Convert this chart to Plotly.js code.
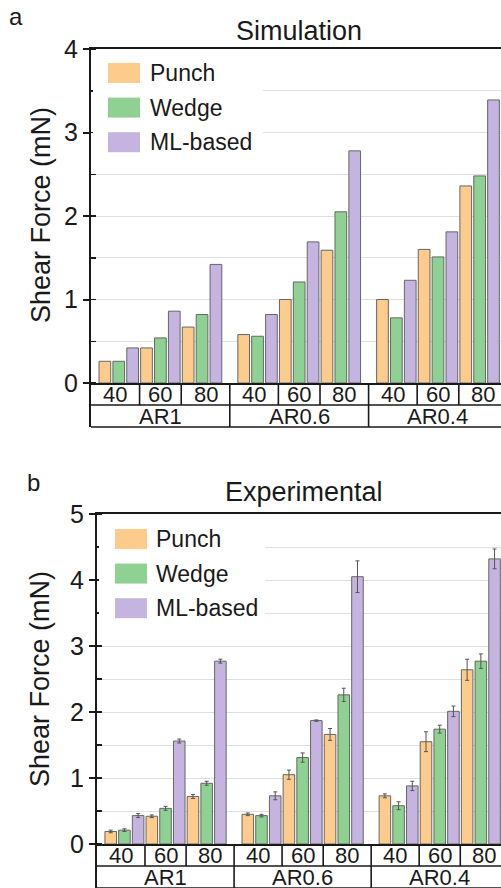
<!DOCTYPE html>
<html>
<head>
<meta charset="utf-8">
<script src="https://cdn.plot.ly/plotly-3.0.1.min.js"></script>
<style>
  html, body { margin: 0; padding: 0; background: #ffffff; }
  #chart { width: 501px; height: 888px; }
</style>
</head>
<body>
<div id="chart"></div>
<script>
// ---- data -------------------------------------------------------------
const aspectRatios = ['AR1', 'AR0.6', 'AR0.4'];
const angles = ['40', '60', '80'];
const seriesNames = ['Punch', 'Wedge', 'ML-based'];
const seriesColors = ['#FDCB8C', '#8FD192', '#C4B4DF'];

// Shear force (mN), ordered AR1 40/60/80, AR0.6 40/60/80, AR0.4 40/60/80
const simPunch = [0.26, 0.42, 0.67, 0.58, 1.00, 1.59, 1.00, 1.60, 2.36];
const simWedge = [0.26, 0.54, 0.82, 0.56, 1.21, 2.05, 0.78, 1.51, 2.48];
const simML    = [0.42, 0.86, 1.42, 0.82, 1.69, 2.78, 1.23, 1.81, 3.39];

const expPunch = [0.19, 0.42, 0.72, 0.45, 1.05, 1.66, 0.73, 1.55, 2.64];
const expWedge = [0.21, 0.54, 0.92, 0.43, 1.31, 2.26, 0.58, 1.74, 2.77];
const expML    = [0.43, 1.56, 2.77, 0.73, 1.87, 4.05, 0.88, 2.01, 4.32];

const expPunchErr = [0.02, 0.02, 0.03, 0.02, 0.07, 0.09, 0.03, 0.15, 0.16];
const expWedgeErr = [0.02, 0.03, 0.03, 0.02, 0.07, 0.10, 0.06, 0.06, 0.11];
const expMLErr    = [0.03, 0.03, 0.03, 0.06, 0.01, 0.24, 0.07, 0.08, 0.15];

// ---- page geometry (pixels) -------------------------------------------
const W = 501, H = 888;
const px = p => p / W;
const py = p => 1 - p / H;
const FONT = 'Liberation Sans, Arial, sans-serif';
const INK = '#1a1a1a';
const GRID = '#dedede';

// each aspect-ratio group takes 10 slots: 9 bars plus one spacer slot
const GROUP_SLOTS = 10;
const clusterPos = [];
aspectRatios.forEach((ar, g) => angles.forEach((ang, a) => clusterPos.push(g * GROUP_SLOTS + a * 3 + 1)));

const panels = [
  { letter: 'a', title: 'Simulation', xa: 'x', ya: 'y', left: 91, top: 49, zero: 383, ymax: 4, xmax: 28.54,
    values: [simPunch, simWedge, simML], errors: null,
    titleXY: [299, 31], letterXY: [16, 17], ytitleXY: [41, 215],
    legend: { box: [93, 51, 263, 165], sw: [108, 140], textX: 148, y0: 73 } },
  { letter: 'b', title: 'Experimental', xa: 'x2', ya: 'y2', left: 97, top: 514, zero: 844, ymax: 5, xmax: 28.47,
    values: [expPunch, expWedge, expML], errors: [expPunchErr, expWedgeErr, expMLErr],
    titleXY: [304, 492], letterXY: [33, 482], ytitleXY: [40, 679],
    legend: { box: [99, 516, 265, 626], sw: [115, 147], textX: 154, y0: 539 } }
];

const ROW_H = 22;
const LEGEND_STEP = 34.6;

const traces = [];
const shapes = [];
const annotations = [];
const layout = {
  width: W, height: H,
  margin: { l: 0, r: 0, t: 0, b: 0 },
  paper_bgcolor: '#ffffff', plot_bgcolor: '#ffffff',
  barmode: 'group', bargap: 0, bargroupgap: 0.157,
  showlegend: false,
  font: { family: FONT, color: INK }
};

panels.forEach(p => {
  const xKey = p.xa === 'x' ? 'xaxis' : 'xaxis2';
  const yKey = p.ya === 'y' ? 'yaxis' : 'yaxis2';
  const ints = [];
  for (let v = 0; v <= p.ymax; v++) ints.push(v);

  layout[xKey] = {
    domain: [px(p.left), 1], range: [-1, p.xmax], anchor: p.ya,
    showline: true, linewidth: 2, linecolor: INK, mirror: true,
    showticklabels: false, ticks: '', showgrid: false, zeroline: false, fixedrange: true
  };
  layout[yKey] = {
    domain: [py(p.zero), py(p.top)], range: [0, p.ymax], anchor: p.xa,
    tickvals: ints, ticks: 'outside', ticklen: 6, tickwidth: 2, tickcolor: INK,
    tickfont: { family: FONT, size: 25, color: INK },
    showline: true, linewidth: 2, linecolor: INK, mirror: false,
    showgrid: true, gridcolor: GRID, gridwidth: 1, zeroline: false, fixedrange: true,
    minor: { dtick: 0.5, ticks: 'inside', ticklen: 5, tickwidth: 1.5, tickcolor: INK,
             showgrid: true, gridcolor: GRID, gridwidth: 1 }
  };

  // bars
  seriesNames.forEach((name, s) => {
    const t = {
      type: 'bar', name: name, x: clusterPos, y: p.values[s],
      xaxis: p.xa, yaxis: p.ya,
      marker: { color: seriesColors[s], line: { color: '#666666', width: 1 } },
      hoverinfo: 'skip'
    };
    if (p.errors) {
      t.error_y = { type: 'data', array: p.errors[s], symmetric: true,
                    color: '#555555', thickness: 1, width: 2 };
    }
    traces.push(t);
  });

  // category table under the axis
  const r1 = p.zero + ROW_H, r2 = p.zero + 2 * ROW_H;
  const line = { color: INK, width: 1.6 };
  shapes.push({ type: 'line', xref: p.xa, yref: 'paper', x0: -1, x1: GROUP_SLOTS * aspectRatios.length,
                y0: py(r1), y1: py(r1), line });
  shapes.push({ type: 'line', xref: p.xa, yref: 'paper', x0: -1, x1: GROUP_SLOTS * aspectRatios.length,
                y0: py(r2), y1: py(r2), line });
  shapes.push({ type: 'line', xref: 'paper', yref: 'paper', x0: px(p.left - 1), x1: px(p.left - 1),
                y0: py(p.zero), y1: py(r2), line: { color: INK, width: 2 } });
  aspectRatios.forEach((ar, g) => {
    const base = g * GROUP_SLOTS;
    const edges = [base - 1, base + 2.5, base + 5.5, base + 9];
    [edges[1], edges[2]].forEach(xv => shapes.push({
      type: 'line', xref: p.xa, yref: 'paper', x0: xv, x1: xv, y0: py(p.zero), y1: py(r1), line }));
    if (g > 0) shapes.push({ type: 'line', xref: p.xa, yref: 'paper', x0: base - 1, x1: base - 1,
                             y0: py(p.zero), y1: py(r2), line });
    angles.forEach((ang, a) => annotations.push({
      text: ang, xref: p.xa, yref: 'paper', x: (edges[a] + edges[a + 1]) / 2, y: py(p.zero + ROW_H / 2),
      xanchor: 'center', yanchor: 'middle', showarrow: false,
      font: { family: FONT, size: 22, color: INK } }));
    annotations.push({
      text: ar, xref: p.xa, yref: 'paper', x: base + 4, y: py(p.zero + ROW_H * 1.5),
      xanchor: 'center', yanchor: 'middle', showarrow: false,
      font: { family: FONT, size: 22, color: INK } });
  });

  // legend
  const L = p.legend;
  shapes.push({ type: 'rect', xref: 'paper', yref: 'paper', layer: 'above',
                x0: px(L.box[0]), x1: px(L.box[2]), y0: py(L.box[3]), y1: py(L.box[1]),
                fillcolor: '#ffffff', line: { width: 0 } });
  seriesNames.forEach((name, s) => {
    const cy = L.y0 + s * LEGEND_STEP;
    shapes.push({ type: 'rect', xref: 'paper', yref: 'paper', layer: 'above',
                  x0: px(L.sw[0]), x1: px(L.sw[1]), y0: py(cy + 10), y1: py(cy - 10),
                  fillcolor: seriesColors[s], line: { width: 0 } });
    annotations.push({ text: name, xref: 'paper', yref: 'paper', x: px(L.textX), y: py(cy),
                       xanchor: 'left', yanchor: 'middle', showarrow: false,
                       font: { family: FONT, size: 23, color: INK } });
  });

  // titles and labels
  annotations.push({ text: p.title, xref: 'paper', yref: 'paper', x: px(p.titleXY[0]), y: py(p.titleXY[1]),
                     xanchor: 'center', yanchor: 'middle', showarrow: false,
                     font: { family: FONT, size: 27, color: INK } });
  annotations.push({ text: p.letter, xref: 'paper', yref: 'paper', x: px(p.letterXY[0]), y: py(p.letterXY[1]),
                     xanchor: 'center', yanchor: 'middle', showarrow: false,
                     font: { family: FONT, size: 24, color: INK } });
  annotations.push({ text: 'Shear Force (mN)', xref: 'paper', yref: 'paper',
                     x: px(p.ytitleXY[0]), y: py(p.ytitleXY[1]), textangle: -90,
                     xanchor: 'center', yanchor: 'middle', showarrow: false,
                     font: { family: FONT, size: 27, color: INK } });
});

layout.shapes = shapes;
layout.annotations = annotations;

Plotly.newPlot('chart', traces, layout, { staticPlot: true, displayModeBar: false });
</script>
</body>
</html>
